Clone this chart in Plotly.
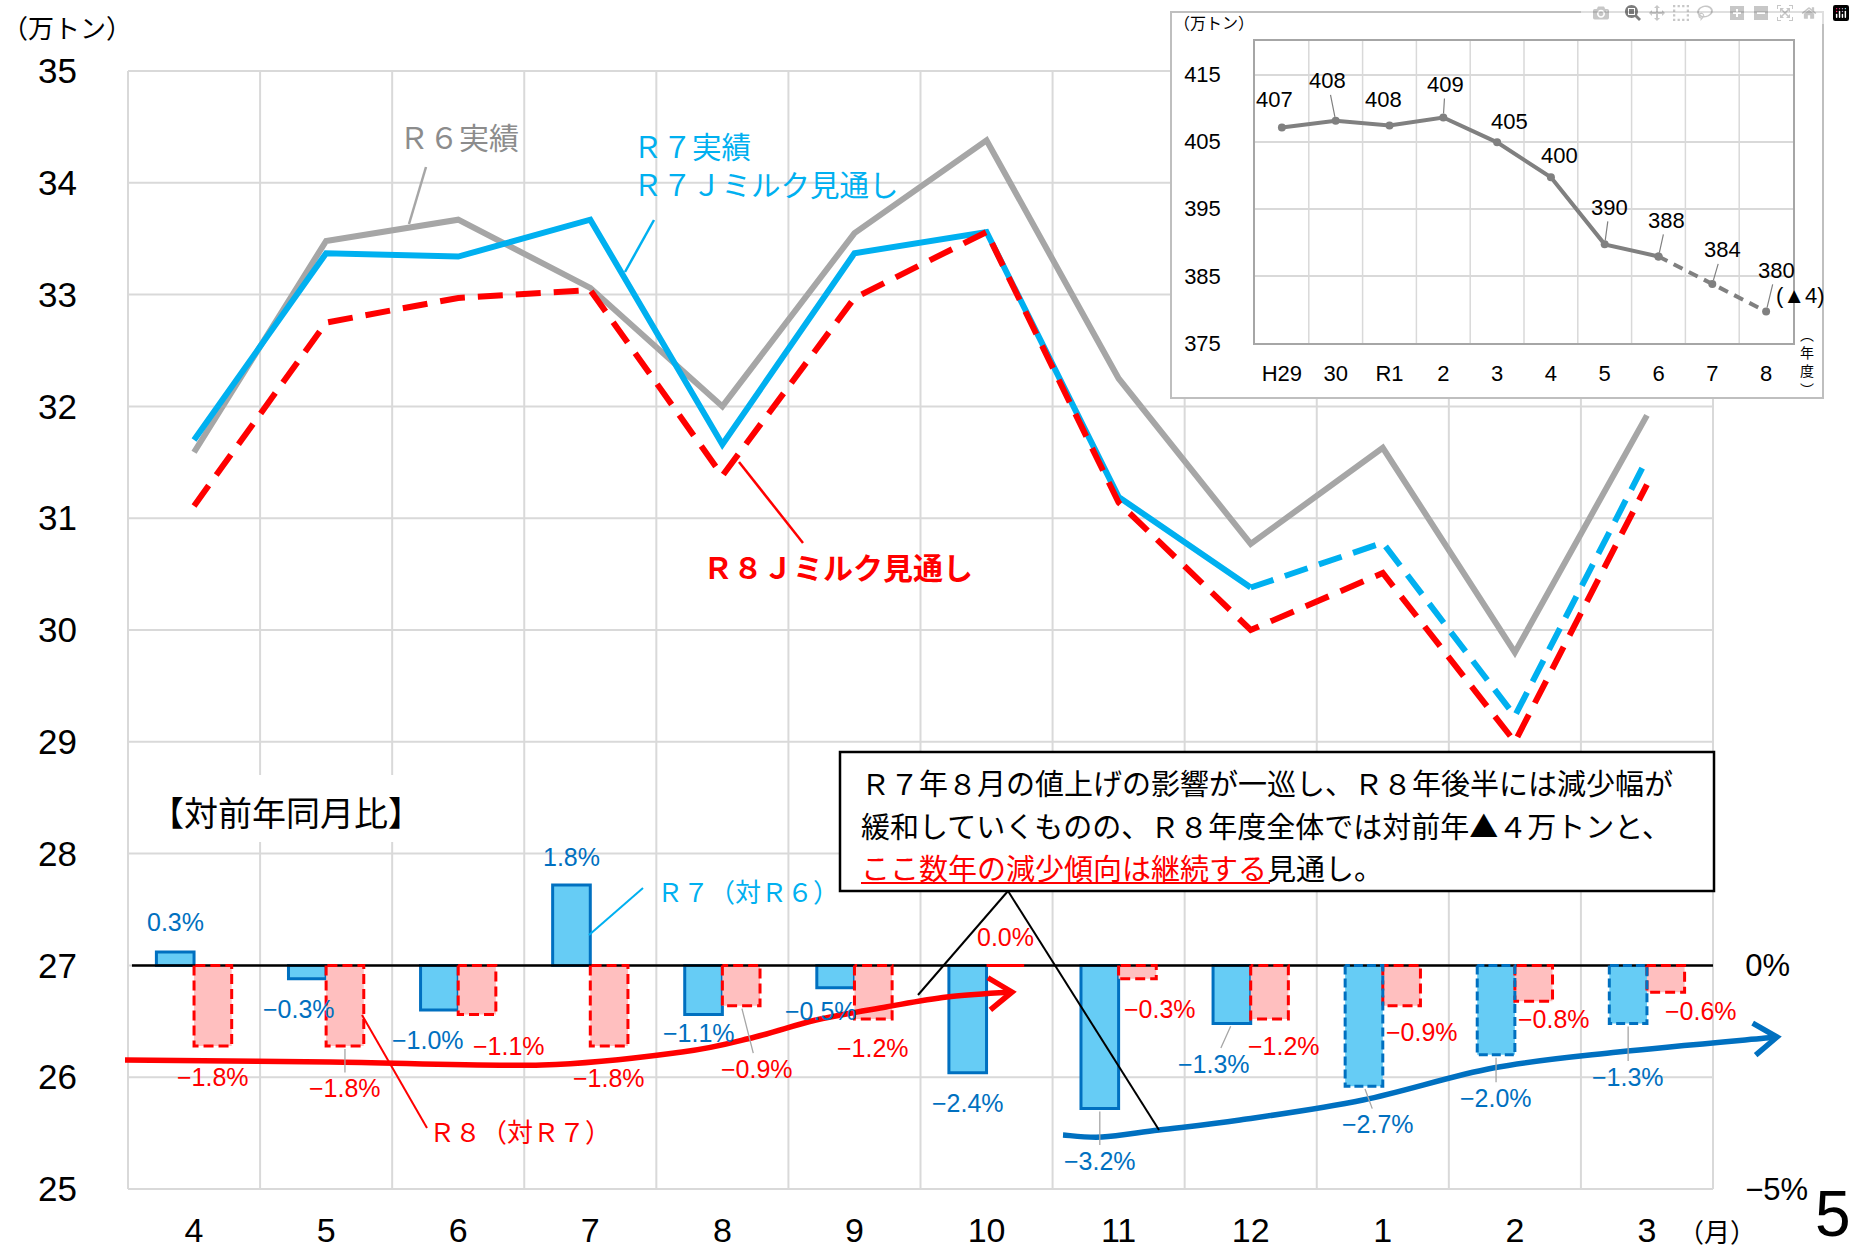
import math
import plotly.graph_objects as go

# ---------------- data ----------------
months = ["4", "5", "6", "7", "8", "9", "10", "11", "12", "1", "2", "3"]
r6_actual = [31.59, 33.48, 33.67, 33.06, 32.00, 33.55, 34.38, 32.25, 30.77, 31.63, 29.80, 31.92]
r7_values = [31.70, 33.37, 33.34, 33.67, 31.66, 33.37, 33.56, 31.19, 30.38, 30.78, 29.23, 31.53]
r8_forecast = [31.11, 32.75, 32.97, 33.04, 31.38, 32.97, 33.56, 31.14, 30.00, 30.51, 29.00, 31.30]
R7_ACTUAL_COUNT = 9          # Apr..Dec are actuals, Jan..Mar forecast
yoy_r7 = [0.3, -0.3, -1.0, 1.8, -1.1, -0.5, -2.4, -3.2, -1.3, -2.7, -2.0, -1.3]
yoy_r8 = [-1.8, -1.8, -1.1, -1.8, -0.9, -1.2, 0.0, -0.3, -1.2, -0.9, -0.8, -0.6]

fy_labels = ["H29", "30", "R1", "2", "3", "4", "5", "6", "7", "8"]
fy_values = [407.1, 408.1, 407.4, 408.6, 404.9, 399.7, 389.7, 387.9, 383.8, 379.7]
fy_text = ["407", "408", "408", "409", "405", "400", "390", "388", "384", "380"]
FY_ACTUAL_COUNT = 8

y_ticks = list(range(25, 36))
pct_ticks = [-5, 0]
pct_ticktext = ["−5%", "0%"]
fy_ticks = [375, 385, 395, 405, 415]

# ---------------- geometry / style ----------------
W, H = 1855, 1252
PL, PR, PT, PB = 128, 1713, 71, 1189
INSET_BOX = (1171, 12, 1823, 398)
INSET_PLOT = (1255, 41, 1793, 343)


def px(x):
    return x / W


def py(y):
    return 1 - y / H


JP = "Noto Sans CJK JP"
NUM = "Liberation Sans Narrow, Liberation Sans, Arial, sans-serif"
GRID = "#D9D9D9"
GRAY_LINE = "#A6A6A6"
BLUE_LINE = "#00B0F0"
RED = "#FF0000"
BAR_BLUE_FILL = "#66CCF5"
BAR_BLUE_EDGE = "#0070C0"
BAR_RED_FILL = "#FFBFBF"
TRANSP = "rgba(0,0,0,0)"


def numfont(size, color="black"):
    return dict(family=NUM, size=size, color=color)


idx = list(range(len(months)))
fidx = list(range(len(fy_labels)))
BW = 0.285

fig = go.Figure()

# ---- bars (year-on-year %) on secondary axis ----
fig.add_trace(go.Bar(
    x=idx, y=yoy_r7, offset=-BW, width=BW, yaxis="y2",
    marker=dict(color=BAR_BLUE_FILL,
                line=dict(color=BAR_BLUE_EDGE,
                          width=[3 if i < R7_ACTUAL_COUNT else 0 for i in idx])),
))
fig.add_trace(go.Bar(
    x=idx, y=yoy_r8, offset=0, width=BW, yaxis="y2",
    marker=dict(color=BAR_RED_FILL, line=dict(width=0)),
))

# zero line of the % axis
fig.add_trace(go.Scatter(x=[idx[0] - 0.47, idx[-1] + 0.5], y=[0, 0], yaxis="y2",
                         mode="lines", line=dict(color="black", width=2.5)))


def outline(x0s, x1s, vals):
    X, Y = [], []
    for a, b, v in zip(x0s, x1s, vals):
        X += [a, a, b, b, a, None]
        Y += [0, v, v, 0, 0, None]
    return X, Y


rx, ry = outline([i for i in idx], [i + BW for i in idx], yoy_r8)
fig.add_trace(go.Scatter(x=rx, y=ry, yaxis="y2", mode="lines",
                         line=dict(color=RED, width=3, dash="10px,5px")))
fc = [i for i in idx if i >= R7_ACTUAL_COUNT]
bx, by = outline([i - BW for i in fc], [i for i in fc], [yoy_r7[i] for i in fc])
fig.add_trace(go.Scatter(x=bx, y=by, yaxis="y2", mode="lines",
                         line=dict(color=BAR_BLUE_EDGE, width=3, dash="9px,4px")))

# ---- main lines ----
k = R7_ACTUAL_COUNT
fig.add_trace(go.Scatter(x=idx, y=r6_actual, mode="lines", line=dict(color=GRAY_LINE, width=6)))
fig.add_trace(go.Scatter(x=idx[:k], y=r7_values[:k], mode="lines", line=dict(color=BLUE_LINE, width=6)))
fig.add_trace(go.Scatter(x=idx[k - 1:], y=r7_values[k - 1:], mode="lines",
                         line=dict(color=BLUE_LINE, width=6, dash="24px,12px")))
fig.add_trace(go.Scatter(x=idx, y=r8_forecast, mode="lines",
                         line=dict(color=RED, width=6, dash="25px,13px")))

# ---- inset ----
j = FY_ACTUAL_COUNT
fig.add_trace(go.Scatter(x=fidx[:j], y=fy_values[:j], xaxis="x3", yaxis="y3",
                         mode="lines+markers", line=dict(color="#808080", width=4),
                         marker=dict(size=8, color="#808080")))
fig.add_trace(go.Scatter(x=fidx[j - 1:], y=fy_values[j - 1:], xaxis="x3", yaxis="y3",
                         mode="lines+markers", line=dict(color="#808080", width=4, dash="10px,7px"),
                         marker=dict(size=8, color="#808080")))

# ---------------- shapes ----------------
shapes = []


def line_px(x0, y0, x1, y1, color, width, layer="below"):
    shapes.append(dict(type="line", xref="paper", yref="paper", x0=px(x0), y0=py(y0),
                       x1=px(x1), y1=py(y1), line=dict(color=color, width=width), layer=layer))


def rect_px(x0, y0, x1, y1, fill, color=None, width=0, layer="below"):
    shapes.append(dict(type="rect", xref="paper", yref="paper", x0=px(x0), y0=py(y0),
                       x1=px(x1), y1=py(y1), fillcolor=fill,
                       line=dict(color=color or TRANSP, width=width), layer=layer))


ix0, iy0, ix1, iy1 = INSET_BOX
for kk in range(len(months) + 1):
    gx = PL + (PR - PL) * kk / len(months)
    top = iy1 if ix0 <= gx <= ix1 else PT
    line_px(gx, top, gx, PB, GRID, 2)
for v in y_ticks:
    gy = PB - (PB - PT) * (v - y_ticks[0]) / (y_ticks[-1] - y_ticks[0])
    right = ix0 if gy <= iy1 else PR
    line_px(PL, gy, right, gy, GRID, 2)

rect_px(130, 775, 450, 842, "white")
rect_px(ix0, iy0, ix1, iy1, "white", "#BFBFBF", 2)
# inset vertical grid at category boundaries
ipx0, ipy0, ipx1, ipy1 = INSET_PLOT
for kk in range(1, len(fy_labels)):
    gx = ipx0 + (ipx1 - ipx0) * kk / len(fy_labels)
    line_px(gx, ipy0, gx, ipy1, GRID, 1.5)
rect_px(840, 752, 1714, 891, "white", "black", 2.5)


def smooth_path(points):
    pts = [(px(x), py(y)) for x, y in points]
    n = len(pts)
    d = f"M {pts[0][0]:.5f},{pts[0][1]:.5f}"
    for i in range(n - 1):
        p0 = pts[i - 1] if i > 0 else pts[i]
        p1, p2 = pts[i], pts[i + 1]
        p3 = pts[i + 2] if i + 2 < n else pts[i + 1]
        c1 = (p1[0] + (p2[0] - p0[0]) / 6, p1[1] + (p2[1] - p0[1]) / 6)
        c2 = (p2[0] - (p3[0] - p1[0]) / 6, p2[1] - (p3[1] - p1[1]) / 6)
        d += f" C {c1[0]:.5f},{c1[1]:.5f} {c2[0]:.5f},{c2[1]:.5f} {p2[0]:.5f},{p2[1]:.5f}"
    return d


def arrow(points, color, width, head=28, ang=35):
    shapes.append(dict(type="path", xref="paper", yref="paper", path=smooth_path(points),
                       line=dict(color=color, width=width), layer="above"))
    (xa, ya), (xb, yb) = points[-2], points[-1]
    L = math.hypot(xb - xa, yb - ya)
    ux, uy = (xb - xa) / L, (yb - ya) / L
    arms = []
    for s in (1, -1):
        a = math.radians(ang) * s
        rx_ = ux * math.cos(a) - uy * math.sin(a)
        ry_ = ux * math.sin(a) + uy * math.cos(a)
        arms.append((xb - head * rx_, yb - head * ry_))
    d = (f"M {px(arms[0][0]):.5f},{py(arms[0][1]):.5f} L {px(xb):.5f},{py(yb):.5f} "
         f"L {px(arms[1][0]):.5f},{py(arms[1][1]):.5f}")
    shapes.append(dict(type="path", xref="paper", yref="paper", path=d,
                       line=dict(color=color, width=width), layer="above"))


arrow([(125, 1060), (330, 1062), (542, 1065), (682, 1052), (755, 1037), (816, 1020),
       (886, 1007), (947, 997), (1012, 992)], RED, 5.5)
arrow([(1063, 1135), (1102, 1137), (1159, 1130), (1240, 1120), (1363, 1100), (1493, 1068),
       (1618, 1052), (1777, 1037)], BAR_BLUE_EDGE, 5.5)

# leaders / callouts
line_px(426, 167, 409, 224, GRAY_LINE, 2.5, "above")
line_px(654, 220, 625, 272, BLUE_LINE, 2.5, "above")
line_px(739, 462, 803, 543, RED, 2.5, "above")
line_px(643, 888, 589, 935, BLUE_LINE, 2, "above")
line_px(362, 1015, 427, 1128, RED, 2, "above")
line_px(1008, 891, 918, 995, "black", 2, "above")
line_px(1008, 891, 1159, 1130, "black", 2, "above")
line_px(861, 883, 1270, 883, RED, 2, "above")

# ---------------- annotations ----------------
ann = []


def text_px(x, y, text, size, color="black", family=JP, xanchor="left", yanchor="middle"):
    ann.append(dict(xref="paper", yref="paper", x=px(x), y=py(y), text=text, showarrow=False,
                    font=dict(family=family, size=size, color=color), align="left",
                    xanchor=xanchor, yanchor=yanchor))


text_px(0, 27, "（万トン）", 26)
text_px(397, 136, "Ｒ６実績", 30, "#8C8C8C")
text_px(631, 164, "Ｒ７実績<br>Ｒ７Ｊミルク見通し", 29.5, BLUE_LINE)
text_px(701, 566, "<b>Ｒ８Ｊミルク見通し</b>", 30, RED)
text_px(148, 811, "【対前年同月比】", 34)
text_px(655, 891, "Ｒ７（対Ｒ６）", 26, BLUE_LINE)
text_px(427, 1130, "Ｒ８（対Ｒ７）", 26, RED)
text_px(859, 782, "Ｒ７年８月の値上げの影響が一巡し、Ｒ８年後半には減少幅が", 29)
text_px(859, 825, "緩和していくものの、Ｒ８年度全体では対前年▲４万トンと、", 29)
text_px(859, 867, "<span style='color:#FF0000'>ここ数年の減少傾向は継続する</span>見通し。", 29)
text_px(1676, 1230, "（月）", 26)
text_px(1853, 1214, "5", 64, family="Liberation Sans, Arial, sans-serif", xanchor="right")
# inset titles
text_px(1172, 22, "（万トン）", 16)
text_px(1807, 362, "︵<br>年<br>度<br>︶", 14, xanchor="center")


def pct_text(v):
    return f"{v:.1f}%".replace("-", "−")


blue_dx = [0, -8, -11, 0, -5, -15, 0, 0, -18, 14, 0, 0]
blue_dy = [-30, 30, 30, -28, 18, 23, 30, 52, 40, 38, 43, 53]
blue_leader = [False] * 7 + [True] * 5
red_dx = [0, 0, 32, 0, 16, 0, 0, 23, 14, 20, 20, 35]
red_dy = [31, 42, 31, 32, 63, 29, -28, 30, 27, 26, 18, 19]
red_leader = [False, True, False, False, True] + [False] * 7

for i in idx:
    ann.append(dict(x=i - BW / 2, y=yoy_r7[i], xref="x", yref="y2", text=pct_text(yoy_r7[i]),
                    showarrow=True, arrowhead=0, arrowwidth=1.3, standoff=3,
                    arrowcolor=GRAY_LINE if blue_leader[i] else TRANSP,
                    ax=blue_dx[i], ay=blue_dy[i], font=numfont(25, BAR_BLUE_EDGE)))
    ann.append(dict(x=i + BW / 2, y=yoy_r8[i], xref="x", yref="y2", text=pct_text(yoy_r8[i]),
                    showarrow=True, arrowhead=0, arrowwidth=1.3, standoff=3,
                    arrowcolor=GRAY_LINE if red_leader[i] else TRANSP,
                    ax=red_dx[i], ay=red_dy[i], font=numfont(25, RED)))

fy_dx = [-7, -8, -6, 2, 12, 9, 5, 8, 10, 10]
fy_dy = [-28, -40, -26, -33, -21, -22, -37, -36, -34, -41]
fy_leader = [False, True, False, True, False, False, True, True, True, True]
for n in fidx:
    ann.append(dict(x=n, y=fy_values[n], xref="x3", yref="y3", text=fy_text[n],
                    showarrow=True, arrowhead=0, arrowwidth=1.2, standoff=4,
                    arrowcolor="#808080" if fy_leader[n] else TRANSP,
                    ax=fy_dx[n], ay=fy_dy[n], font=numfont(22)))
ann.append(dict(x=fidx[-1], y=fy_values[-1], xref="x3", yref="y3", text="(▲4)",
                showarrow=False, xshift=34, yshift=16, font=numfont(22)))

# ---------------- layout ----------------
fig.update_layout(
    width=W, height=H,
    margin=dict(l=0, r=0, t=0, b=0, autoexpand=False),
    paper_bgcolor="white", plot_bgcolor=TRANSP,
    showlegend=False, hovermode=False, barmode="overlay",
    xaxis=dict(domain=[px(PL), px(PR)], range=[-0.5, len(months) - 0.5],
               tickmode="array", tickvals=idx, ticktext=months,
               showgrid=False, zeroline=False, showline=False, automargin=False,
               ticks="outside", ticklen=11, tickcolor=TRANSP, tickfont=numfont(34), anchor="y"),
    yaxis=dict(domain=[py(PB), py(PT)], range=[y_ticks[0], y_ticks[-1]],
               tickmode="array", tickvals=y_ticks,
               showgrid=False, zeroline=False, showline=False, automargin=False,
               ticks="outside", ticklen=43, tickcolor=TRANSP, tickfont=numfont(35), anchor="x"),
    yaxis2=dict(overlaying="y", side="right", anchor="x", range=[-5, 20],
                tickmode="array", tickvals=pct_ticks, ticktext=pct_ticktext,
                showgrid=False, zeroline=False, showline=False, automargin=False,
                ticks="outside", ticklen=25, tickcolor=TRANSP, tickfont=numfont(31)),
    xaxis3=dict(domain=[px(INSET_PLOT[0]), px(INSET_PLOT[2])], anchor="y3",
                range=[-0.5, len(fy_labels) - 0.5], tickmode="array", tickvals=fidx,
                ticktext=fy_labels, tickangle=0, showgrid=False,
                showline=True, mirror=True, linecolor="#A6A6A6", linewidth=1.5,
                zeroline=False, automargin=False, ticks="outside", ticklen=10,
                tickcolor=TRANSP, tickfont=numfont(22)),
    yaxis3=dict(domain=[py(INSET_PLOT[3]), py(INSET_PLOT[1])], anchor="x3",
                range=[375, 420], tickmode="array", tickvals=fy_ticks,
                showgrid=True, gridcolor=GRID, gridwidth=1.5,
                showline=True, mirror=True, linecolor="#A6A6A6", linewidth=1.5,
                zeroline=False, automargin=False, ticks="outside", ticklen=28,
                tickcolor=TRANSP, tickfont=numfont(22)),
    shapes=shapes,
    annotations=ann,
)

fig.write_html("out.html", post_script="document.body.style.margin='0';")
